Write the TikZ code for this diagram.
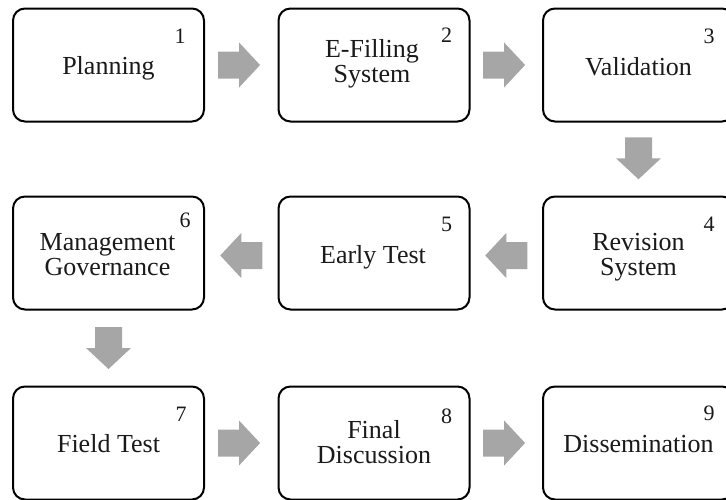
\documentclass[tikz,border=0pt]{standalone}
\usepackage{fontspec}
\setmainfont{Liberation Serif}
\usetikzlibrary{calc}
\definecolor{arrowgray}{HTML}{A6A6A6}
\definecolor{textblack}{HTML}{1A1A1A}
\tikzset{
  stepbox/.style={draw=black, line width=2pt, rounded corners=12pt,
    minimum width=191pt, minimum height=113pt, fill=white, inner sep=0pt},
  steptext/.style={font=\fontsize{26}{25}\selectfont, align=center,
    inner sep=0pt, anchor=base, text=textblack},
  stepnum/.style={font=\fontsize{22}{22}\selectfont, inner sep=0pt, text=textblack},
  blockarrow/.pic={
    \fill[arrowgray] (-21pt,-13.5pt) -- (0pt,-13.5pt) -- (0pt,-22.5pt) -- (21pt,0pt)
      -- (0pt,22.5pt) -- (0pt,13.5pt) -- (-21pt,13.5pt) -- cycle;
  }
}
\begin{document}
\begin{tikzpicture}[x=1pt,y=-1pt]
  \useasboundingbox (0,0) rectangle (726,499);
  \clip (0,0) rectangle (726,499);
  % boxes
  \node[stepbox] (b1) at (108.5,65) {};
  \node[stepbox] (b2) at (374,65) {};
  \node[stepbox] (b3) at (638.5,65) {};
  \node[stepbox] (b4) at (638.5,253) {};
  \node[stepbox] (b5) at (374,253) {};
  \node[stepbox] (b6) at (108.5,253) {};
  \node[stepbox] (b7) at (108.5,443) {};
  \node[stepbox] (b8) at (374,443) {};
  \node[stepbox] (b9) at (638.5,443) {};
  % texts (anchor = baseline of last line)
  \node[steptext] (t1) at ($(b1.center)+(0,9)$) {Planning};
  \node[steptext] (t2) at ($(b2.center)+(-2,17)$) {E-Filling\\System};
  \node[steptext] (t3) at ($(b3.center)+(0,10)$) {Validation};
  \node[steptext] (t4) at ($(b4.center)+(0,22)$) {Revision\\System};
  \node[steptext] (t5) at ($(b5.center)+(-1,10)$) {Early Test};
  \node[steptext] (t6) at ($(b6.center)+(-1,22)$) {Management\\Governance};
  \node[steptext] (t7) at ($(b7.center)+(0,9)$) {Field Test};
  \node[steptext] (t8) at ($(b8.center)+(0,20)$) {Final\\Discussion};
  \node[steptext] (t9) at ($(b9.center)+(0,9)$) {Dissemination};
  % numbers
  \node[stepnum] (n1) at ($(b1.north east)+(-25,29)$) {1};
  \node[stepnum] (n2) at ($(b2.north east)+(-24,28)$) {2};
  \node[stepnum] (n3) at ($(b3.north east)+(-26,29)$) {3};
  \node[stepnum] (n4) at ($(b4.north east)+(-26,29)$) {4};
  \node[stepnum] (n5) at ($(b5.north east)+(-24,29)$) {5};
  \node[stepnum] (n6) at ($(b6.north east)+(-20,25)$) {6};
  \node[stepnum] (n7) at ($(b7.north east)+(-24,29)$) {7};
  \node[stepnum] (n8) at ($(b8.north east)+(-24,31)$) {8};
  \node[stepnum] (n9) at ($(b9.north east)+(-26,28)$) {9};
  % arrows
  \pic at ($(b1.east)!0.47!(b2.west)$) {blockarrow};
  \pic at ($(b2.east)!0.47!(b3.west)$) {blockarrow};
  \pic[rotate=-90] at ($(b3.south)!0.49!(b4.north)$) {blockarrow};
  \pic[rotate=180] at ($(b4.west)!0.5!(b5.east)+(0,2.5)$) {blockarrow};
  \pic[rotate=180] at ($(b5.west)!0.5!(b6.east)+(0,2.5)$) {blockarrow};
  \pic[rotate=-90] at ($(b6.south)!0.5!(b7.north)$) {blockarrow};
  \pic at ($(b7.east)!0.47!(b8.west)$) {blockarrow};
  \pic at ($(b8.east)!0.47!(b9.west)$) {blockarrow};
\end{tikzpicture}
\end{document}
